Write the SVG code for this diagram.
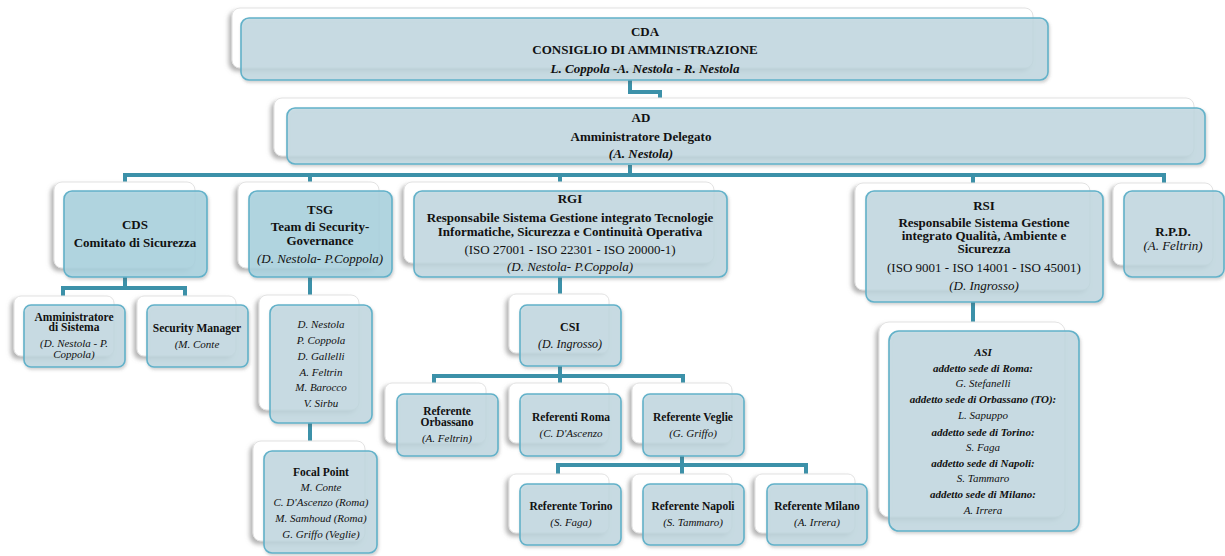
<svg xmlns="http://www.w3.org/2000/svg" width="1225" height="556" viewBox="0 0 1225 556">
<style>
.back{fill:#ffffff;stroke:#e2e2e2;stroke-width:1;filter:url(#bs)}
.front{fill:#c0d8e1;fill-opacity:0.8;stroke:#62b1c9;stroke-width:1.6;filter:url(#fs)}
.front2{fill:#a9d2df;fill-opacity:0.85;stroke:#62b1c9;stroke-width:1.6;filter:url(#fs)}
.conn{fill:none;stroke:#3c91a9;stroke-width:4;stroke-linejoin:miter}
text{font-family:"Liberation Serif","Times New Roman",serif;text-anchor:middle;fill:#111}
.b13{font-size:13px;font-weight:bold}
.bi13{font-size:13px;font-weight:bold;font-style:italic}
.i13{font-size:13px;font-style:italic}
.r13{font-size:13px}
.b12{font-size:12px;font-weight:bold}
.i12{font-size:12px;font-style:italic}
.b115{font-size:11.5px;font-weight:bold}
.i11{font-size:11px;font-style:italic}
.bi11{font-size:11px;font-weight:bold;font-style:italic}
</style>
<defs>
<filter id="bs" x="-10%" y="-20%" width="120%" height="140%">
<feDropShadow dx="-3" dy="3" stdDeviation="2" flood-color="#777" flood-opacity="0.55"/>
</filter>
<filter id="fs" x="-10%" y="-20%" width="120%" height="140%">
<feDropShadow dx="1" dy="2" stdDeviation="1.5" flood-color="#555" flood-opacity="0.3"/>
</filter>
</defs>
<rect width="1225" height="556" fill="#ffffff"/>
<g id="connectors">
<path class="conn" d="M630,80 V92 H660 V101"/>
<path class="conn" d="M630,165 V175"/>
<path class="conn" d="M123,175 H1166"/>
<path class="conn" d="M125,175 V186 M310,175 V186 M560,175 V186 M973,175 V186 M1164,175 V186"/>
<path class="conn" d="M125,277 V288 M61,288 H187 M63,288 V299 M185,288 V299"/>
<path class="conn" d="M310,277 V299 M310,423 V444"/>
<path class="conn" d="M560,277 V296 M560,366 V376 M432,376 H685 M434,376 V386 M560,376 V386 M683,376 V386"/>
<path class="conn" d="M682,455 V465 M556,465 H808 M558,465 V476 M682,465 V476 M806,465 V476"/>
<path class="conn" d="M973,302 V324"/>
</g>
<g id="cda">
<rect class="back" x="232" y="8" width="801" height="60" rx="8"/>
<rect class="front" x="241" y="18" width="807" height="62" rx="8"/>
<text class="b13" x="645" y="36">CDA</text>
<text class="b13" x="645" y="54">CONSIGLIO DI AMMINISTRAZIONE</text>
<text class="bi13" x="645" y="73">L. Coppola -A. Nestola - R. Nestola</text>
</g>
<g id="ad">
<rect class="back" x="274" y="98" width="920" height="58" rx="8"/>
<rect class="front" x="287" y="108" width="918" height="56" rx="8"/>
<text class="b13" x="641" y="122">AD</text>
<text class="b13" x="641" y="141">Amministratore Delegato</text>
<text class="bi13" x="641" y="158">(A. Nestola)</text>
</g>
<g id="cds">
<rect class="back" x="54" y="182" width="141" height="86" rx="8"/>
<rect class="front2" x="64" y="191" width="143" height="86" rx="8"/>
<text class="b13" x="135" y="229">CDS</text>
<text class="b13" x="135" y="247">Comitato di Sicurezza</text>
</g>
<g id="amm-sistema">
<rect class="back" x="14" y="296" width="100" height="60" rx="7"/>
<rect class="front" x="24" y="305" width="101" height="62" rx="7"/>
<text class="b115" x="74" y="321">Amministratore</text>
<text class="b115" x="74" y="331">di Sistema</text>
<text class="i11" x="74" y="347">(D. Nestola - P.</text>
<text class="i11" x="74" y="358">Coppola)</text>
</g>
<g id="security-manager">
<rect class="back" x="137" y="296" width="99" height="60" rx="7"/>
<rect class="front" x="147" y="305" width="101" height="62" rx="7"/>
<text class="b115" x="197" y="332">Security Manager</text>
<text class="i11" x="197" y="348">(M. Conte</text>
</g>
<g id="tsg">
<rect class="back" x="238" y="182" width="141" height="86" rx="8"/>
<rect class="front2" x="249" y="191" width="143" height="86" rx="8"/>
<text class="b13" x="320" y="214">TSG</text>
<text class="b13" x="320" y="231">Team di Security-</text>
<text class="b13" x="320" y="245">Governance</text>
<text class="i13" x="320" y="263">(D. Nestola- P.Coppola)</text>
</g>
<g id="tsg-members">
<rect class="back" x="259" y="295" width="100" height="115" rx="8"/>
<rect class="front" x="270" y="305" width="102" height="118" rx="8"/>
<text class="i11" x="321" y="328">D. Nestola</text>
<text class="i11" x="321" y="344">P. Coppola</text>
<text class="i11" x="321" y="360">D. Gallelli</text>
<text class="i11" x="321" y="376">A. Feltrin</text>
<text class="i11" x="321" y="391">M. Barocco</text>
<text class="i11" x="321" y="407">V. Sirbu</text>
</g>
<g id="focal-point">
<rect class="back" x="253" y="441" width="112" height="100" rx="8"/>
<rect class="front" x="264" y="451" width="113" height="102" rx="8"/>
<text class="b115" x="321" y="476">Focal Point</text>
<text class="i11" x="321" y="491">M. Conte</text>
<text class="i11" x="321" y="506">C. D'Ascenzo (Roma)</text>
<text class="i11" x="321" y="522">M. Samhoud (Roma)</text>
<text class="i11" x="321" y="538">G. Griffo (Veglie)</text>
</g>
<g id="rgi">
<rect class="back" x="404" y="182" width="310" height="81" rx="8"/>
<rect class="front" x="414" y="191" width="313" height="86" rx="8"/>
<text class="b13" x="570" y="203">RGI</text>
<text class="b13" x="570" y="222">Responsabile Sistema Gestione integrato Tecnologie</text>
<text class="b13" x="570" y="236">Informatiche, Sicurezza e Continuità Operativa</text>
<text class="r13" x="570" y="254">(ISO 27001 - ISO 22301 - ISO 20000-1)</text>
<text class="i13" x="570" y="271">(D. Nestola- P.Coppola)</text>
</g>
<g id="csi">
<rect class="back" x="509" y="294" width="100" height="59" rx="7"/>
<rect class="front" x="520" y="305" width="101" height="61" rx="7"/>
<text class="b12" x="570" y="331">CSI</text>
<text class="i12" x="570" y="348">(D. Ingrosso)</text>
</g>
<g id="ref-orbassano">
<rect class="back" x="385" y="383" width="101" height="60" rx="7"/>
<rect class="front" x="397" y="394" width="101" height="62" rx="7"/>
<text class="b115" x="447" y="415">Referente</text>
<text class="b115" x="447" y="426">Orbassano</text>
<text class="i11" x="447" y="442">(A. Feltrin)</text>
</g>
<g id="ref-roma">
<rect class="back" x="509" y="383" width="100" height="60" rx="7"/>
<rect class="front" x="520" y="394" width="101" height="62" rx="7"/>
<text class="b115" x="571" y="421">Referenti Roma</text>
<text class="i11" x="571" y="437">(C. D'Ascenzo</text>
</g>
<g id="ref-veglie">
<rect class="back" x="632" y="383" width="100" height="60" rx="7"/>
<rect class="front" x="643" y="394" width="101" height="62" rx="7"/>
<text class="b115" x="693" y="421">Referente Veglie</text>
<text class="i11" x="693" y="437">(G. Griffo)</text>
</g>
<g id="ref-torino">
<rect class="back" x="509" y="474" width="100" height="59" rx="7"/>
<rect class="front" x="520" y="484" width="101" height="61" rx="7"/>
<text class="b115" x="571" y="510">Referente Torino</text>
<text class="i11" x="571" y="526">(S. Faga)</text>
</g>
<g id="ref-napoli">
<rect class="back" x="632" y="474" width="100" height="59" rx="7"/>
<rect class="front" x="643" y="484" width="101" height="61" rx="7"/>
<text class="b115" x="693" y="510">Referente Napoli</text>
<text class="i11" x="693" y="526">(S. Tammaro)</text>
</g>
<g id="ref-milano">
<rect class="back" x="755" y="474" width="100" height="59" rx="7"/>
<rect class="front" x="767" y="484" width="100" height="61" rx="7"/>
<text class="b115" x="817" y="510">Referente Milano</text>
<text class="i11" x="817" y="526">(A. Irrera)</text>
</g>
<g id="rsi">
<rect class="back" x="855" y="183" width="235" height="107" rx="8"/>
<rect class="front" x="866" y="191" width="237" height="111" rx="8"/>
<text class="b13" x="984" y="210">RSI</text>
<text class="b13" x="984" y="227">Responsabile Sistema Gestione</text>
<text class="b13" x="984" y="240">integrato Qualità,  Ambiente e</text>
<text class="b13" x="984" y="253">Sicurezza</text>
<text class="r13" x="984" y="272">(ISO 9001 - ISO 14001 - ISO 45001)</text>
<text class="i13" x="984" y="290">(D. Ingrosso)</text>
</g>
<g id="rpd">
<rect class="back" x="1113" y="183" width="100" height="82" rx="8"/>
<rect class="front" x="1124" y="191" width="100" height="86" rx="8"/>
<text class="b13" x="1173" y="236">R.P.D.</text>
<text class="i13" x="1173" y="250">(A. Feltrin)</text>
</g>
<g id="asi">
<rect class="back" x="879" y="322" width="186" height="195" rx="10"/>
<rect class="front" x="889" y="331" width="190" height="200" rx="10"/>
<text class="bi11" x="983" y="356">ASI</text>
<text class="bi11" x="983" y="372">addetto sede di Roma:</text>
<text class="i11" x="983" y="387">G. Stefanelli</text>
<text class="bi11" x="983" y="403">addetto sede di Orbassano (TO):</text>
<text class="i11" x="983" y="419">L. Sapuppo</text>
<text class="bi11" x="983" y="436">addetto sede di Torino:</text>
<text class="i11" x="983" y="451">S. Faga</text>
<text class="bi11" x="983" y="467">addetto sede di Napoli:</text>
<text class="i11" x="983" y="482">S. Tammaro</text>
<text class="bi11" x="983" y="498">addetto sede di Milano:</text>
<text class="i11" x="983" y="514">A. Irrera</text>
</g>
</svg>
